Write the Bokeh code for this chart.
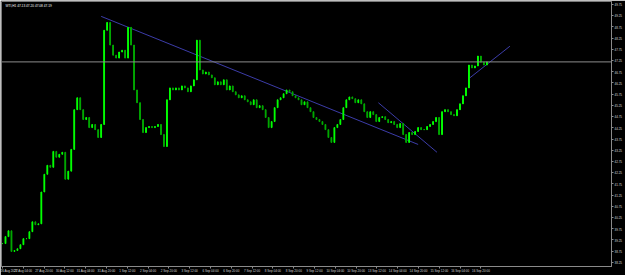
from bokeh.plotting import figure
from bokeh.models import Range1d, FixedTicker, Span, Label, ColumnDataSource
from bokeh.embed import file_html
from bokeh.resources import INLINE

# closing prices (roughly every 2-3 hours)
closes = [
    39.09, 39.40, 39.66, 38.74, 38.78, 38.86, 39.04, 39.31, 39.31, 39.62,
    40.06, 39.93, 39.97, 41.39, 42.18, 42.58, 42.49, 43.20, 42.94, 43.07,
    43.16, 41.96, 42.32, 43.29, 45.06, 45.59, 45.06, 44.62, 44.71, 44.26,
    44.40, 44.17, 43.82, 44.40, 48.60, 48.95, 47.94, 47.49, 47.36, 47.63,
    47.71, 47.36, 48.73, 47.94, 45.94, 45.37, 44.62, 44.04, 44.26, 44.31,
    44.26, 44.31, 44.40, 43.95, 43.42, 45.50, 46.03, 45.94, 46.03, 45.94,
    46.12, 46.03, 45.86, 46.12, 46.39, 48.16, 46.83, 46.65, 46.74, 46.61,
    46.48, 46.17, 46.30, 46.17, 46.39, 45.94, 46.12, 45.86, 45.72, 45.59,
    45.68, 45.50, 45.41, 45.28, 45.50, 45.15, 45.24, 45.06, 44.71, 44.26,
    44.53, 45.15, 45.50, 45.59, 45.77, 45.94, 45.86, 45.68, 45.59, 45.50,
    45.28, 45.41, 45.15, 44.97, 44.71, 44.62, 44.53, 44.40, 44.17, 43.82,
    43.60, 44.26, 44.40, 44.62, 45.15, 45.50, 45.63, 45.55, 45.37, 45.50,
    45.32, 44.97, 44.71, 44.97, 44.84, 44.53, 44.71, 44.75, 44.62, 44.48,
    44.53, 44.40, 44.26, 44.44, 43.95, 43.60, 44.04, 43.95, 44.09, 44.26,
    44.17, 44.17, 44.31, 44.40, 44.53, 44.71, 43.95, 44.97, 45.06, 44.97,
    44.84, 44.79, 45.06, 45.32, 45.68, 46.03, 47.05, 46.92, 47.01, 47.45,
    47.18, 47.05, 47.19,
]

tick_labels = [
    "26 Aug 2021", "27 Aug 04:00", "27 Aug 20:00", "30 Aug 12:00", "31 Aug 04:00",
    "31 Aug 20:00", "1 Sep 12:00", "2 Sep 04:00", "2 Sep 20:00", "3 Sep 12:00",
    "6 Sep 04:00", "6 Sep 20:00", "7 Sep 12:00", "8 Sep 04:00", "8 Sep 20:00",
    "9 Sep 12:00", "10 Sep 04:00", "10 Sep 20:00", "13 Sep 12:00", "14 Sep 04:00",
    "14 Sep 20:00", "15 Sep 12:00", "16 Sep 04:00", "16 Sep 20:00",
]

price_labels = [38.25 + 0.5 * k for k in range(24)]

trend_x0 = [33.0, 125.7, 156.3]
trend_y0 = [49.22, 45.37, 46.48]
trend_x1 = [139.0, 145.3, 169.7]
trend_y1 = [43.51, 43.16, 47.89]

last_price = 47.19
header = "WTI,H1  47.13 47.20 47.08 47.19"

# ---- build ----
xs = list(range(len(closes)))
opens = [closes[0]] + closes[:-1]
up = "#00ff00"
down = "#00a800"
colors = [up if c >= o else down for o, c in zip(opens, closes)]
src = ColumnDataSource(dict(x=xs, o=opens, c=closes, col=colors))

period = 20.87 / 3.0
tick_pos = [k * period for k in range(len(tick_labels))]

p = figure(width=625, height=275, output_backend="svg", toolbar_location=None,
           x_range=Range1d(-1 / 3, 611 / 3), y_range=Range1d(38.068, 49.883),
           y_axis_location="right",
           background_fill_color="black", border_fill_color="black",
           min_border_left=1, min_border_top=1, min_border_right=13, min_border_bottom=7)
p.outline_line_color = "#7a7a7a"
p.xgrid.visible = False
p.ygrid.visible = False

for ax in (p.xaxis[0], p.yaxis[0]):
    ax.axis_line_color = "#8a8a8a"
    ax.major_tick_line_color = "#8a8a8a"
    ax.major_tick_out = 2
    ax.major_tick_in = 0
    ax.minor_tick_line_color = None
    ax.major_label_text_color = "#d8d8d8"
    ax.major_label_text_font = "Liberation Sans"
    ax.major_label_text_font_size = "3px"
    ax.major_label_standoff = 1

p.xaxis.ticker = FixedTicker(ticks=tick_pos)
p.xaxis.major_label_overrides = {t: s for t, s in zip(tick_pos, tick_labels)}
p.xaxis.major_label_text_align = "left"
p.yaxis.ticker = FixedTicker(ticks=price_labels)
p.yaxis.major_label_overrides = {v: f"{v:.2f}" for v in price_labels}

# current price line
p.add_layout(Span(location=last_price, dimension="width", line_color="#8c8c8c", line_width=1))

# trend lines
p.segment(x0=trend_x0, y0=trend_y0, x1=trend_x1, y1=trend_y1, line_color="#3c3ca8", line_width=1)

# price bars
p.segment(x0="x", y0="o", x1="x", y1="c", source=src, line_color="col", line_width=1.2)
p.vbar(x="x", bottom="o", top="c", width=0.25, source=src, fill_color="col", line_color="col")

p.add_layout(Label(x=1.0, y=49.70, text=header, text_color="white",
                   text_font="Liberation Sans", text_font_size="3.2px", text_baseline="middle"))
p.add_layout(Label(x=204.2, y=last_price, text=f"{last_price:.2f}", text_color="black",
                   text_font="Liberation Sans", text_font_size="3px", text_baseline="middle",
                   background_fill_color="#e6e6e6"))

open("out.html", "w").write(file_html(p, INLINE))
